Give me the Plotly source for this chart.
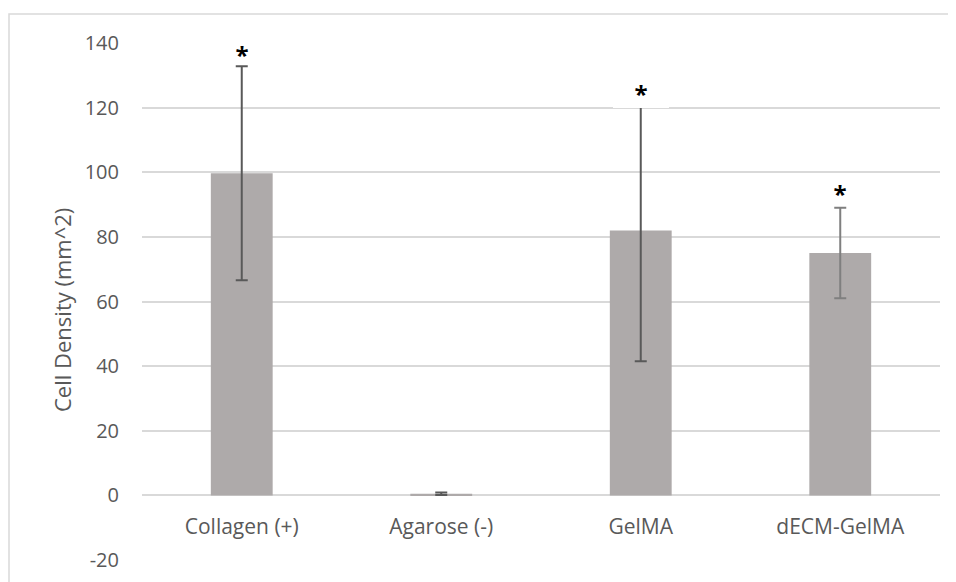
import plotly.graph_objects as go

categories = ["Collagen (+)", "Agarose (-)", "GelMA", "dECM-GelMA"]
density = [99.7, 0.5, 82.0, 75.0]
errors = [33.1, 0.4, 40.5, 14.0]
error_colors = ["#595959", "#595959", "#595959", "#7F7F7F"]
significant = [True, False, True, True]
star_y = [138.0, None, 124.9, 95.5]
y_ticks = [-20, 0, 20, 40, 60, 80, 100, 120, 140]
y_tick_labels = ["-20", "0", "20", "40", "60", "80", "100", "120", "140"]
y_title = "Cell Density (mm^2)"

# page body has an 8px margin, so the figure is offset by 8px
W, H = 948, 574
L, R, T, B = 134, 16, 35, 22
pw, ph = W - L - R, H - T - B

fig = go.Figure()
for cat, val, err, ec in zip(categories, density, errors, error_colors):
    fig.add_trace(go.Bar(
        x=[cat], y=[val], width=0.31,
        marker=dict(color="#AEAAAA", line=dict(width=0)),
        error_y=dict(type="data", array=[err], visible=True,
                     color=ec, thickness=2, width=6),
        showlegend=False, hoverinfo="skip",
    ))

box_h = {0: 23, 2: 30, 3: 20}
box_bg = {0: "#FFFFFF", 2: "#FFFFFF", 3: "rgba(0,0,0,0)"}
for i, (cat, sig, sy) in enumerate(zip(categories, significant, star_y)):
    if not sig:
        continue
    fig.add_annotation(
        x=cat, y=sy, xref="x", yref="y",
        text="<b>*</b>", showarrow=False,
        font=dict(family="Open Sans", size=24, color="#000000"),
        bgcolor=box_bg[i], borderwidth=0,
        width=54, height=box_h[i], valign="top",
        yanchor="middle",
    )

# y-axis title (placed as rotated text, as in the original)
fig.add_annotation(
    x=(54 - L) / pw, y=1 - (302 - T) / ph, xref="paper", yref="paper",
    text=y_title, textangle=-90, showarrow=False,
    font=dict(family="Open Sans", size=22, color="#595959"),
    xanchor="center", yanchor="middle",
)

# outer chart border (cropped at right and bottom)
fig.add_shape(type="rect", xref="paper", yref="paper",
              x0=(1 - L) / pw, x1=(W + 10 - L) / pw,
              y0=-(H + 10 - (T + ph)) / ph, y1=1 + (T - 6) / ph,
              line=dict(color="#D9D9D9", width=1.5), fillcolor="rgba(0,0,0,0)",
              layer="below")

fig.update_layout(
    width=W, height=H,
    margin=dict(l=L, r=R, t=T, b=B, autoexpand=False),
    paper_bgcolor="#FFFFFF", plot_bgcolor="#FFFFFF",
    barmode="overlay",
    font=dict(family="Open Sans", size=20, color="#595959"),
    xaxis=dict(
        type="category", categoryorder="array", categoryarray=categories,
        anchor="free", position=20 / 160,
        showgrid=False, showline=False, ticks="", zeroline=False,
        ticklabelstandoff=17,
        tickfont=dict(family="Open Sans", size=21, color="#595959"),
    ),
    yaxis=dict(
        range=[-20, 140], tickvals=y_ticks, ticktext=y_tick_labels,
        showgrid=True, gridcolor="#D9D9D9", gridwidth=1.5,
        zeroline=True, zerolinecolor="#D9D9D9", zerolinewidth=1.5,
        showline=False, ticks="",
        ticklabelstandoff=22,
        tickfont=dict(family="Open Sans", size=20, color="#595959"),
    ),
)

fig.write_html("out.html")
